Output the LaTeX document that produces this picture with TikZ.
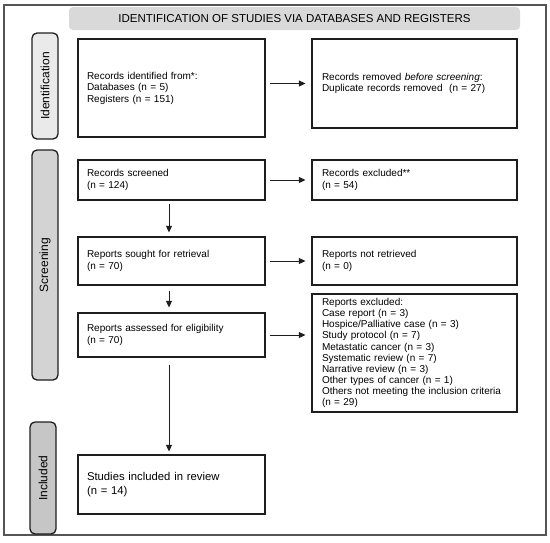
\documentclass[tikz,border=0pt]{standalone}
\usepackage{fontspec}
\setmainfont{Liberation Sans}
\usetikzlibrary{arrows.meta}
\definecolor{framegray}{HTML}{555555}
\definecolor{headgray}{HTML}{D9D9D9}
\definecolor{idfill}{HTML}{EAEAEA}
\definecolor{scrfill}{HTML}{D3D3D3}
\definecolor{incfill}{HTML}{C6C6C6}
\definecolor{ink}{HTML}{1E1E1E}
\begin{document}
\begin{tikzpicture}[x=1pt,y=-1pt,
  box/.style={draw=ink, line width=1.2pt, rectangle, inner ysep=1pt, align=left,
    font=\fontsize{10}{11.5}\selectfont},
  lbox/.style={box, minimum width=187pt, text width=169pt, inner xsep=9pt},
  rbox/.style={box, minimum width=205pt, text width=185pt, inner xsep=10pt},
  phase/.style={draw=ink, line width=1.3pt, rounded corners=5pt, minimum height=26pt,
    inner sep=0pt, rotate=90, font=\fontsize{12}{14}\selectfont},
  arr/.style={line width=1pt, draw=ink, -{Triangle[length=6.5pt,width=6pt]}},
]
\useasboundingbox (0,0) rectangle (550,542);
\draw[framegray, line width=1.2pt] (4,5) rectangle (546,535);
\node[fill=headgray, rounded corners=4pt, minimum width=451pt, minimum height=23pt, inner sep=0pt,
  font=\fontsize{11.5}{13}\selectfont] (head) at (294.5,18.5) {IDENTIFICATION OF STUDIES VIA DATABASES AND REGISTERS};

\node[phase, fill=idfill, minimum width=106pt] (pid) at (45,86) {Identification};
\node[phase, fill=scrfill, minimum width=230pt] (pscr) at (45,265) {Screening};
\node[phase, fill=incfill, minimum width=112pt] (pinc) at (43,478) {Included};

\node[lbox, minimum height=98pt] (box1) at (171.5,88) {Records identified from*:\\Databases (n = 5)\\Registers (n = 151)};
\node[rbox, minimum height=89pt] (removed) at (414.5,83.5) {Records removed \textit{before screening}:\\Duplicate records removed\ \ (n = 27)};
\node[lbox, minimum height=40pt] (screened) at (171.5,180) {Records screened\\(n = 124)};
\node[rbox, minimum height=40pt] (excluded) at (414.5,180) {Records excluded**\\(n = 54)};
\node[lbox, minimum height=48pt] (sought) at (171.5,261) {Reports sought for retrieval\\(n = 70)};
\node[rbox, minimum height=48pt] (notret) at (414.5,261) {Reports not retrieved\\(n = 0)};
\node[lbox, minimum height=44pt] (assessed) at (171.5,335) {Reports assessed for eligibility\\(n = 70)};
\node[rbox, minimum height=118pt, font=\fontsize{10}{11.1}\selectfont] (repexcl) at (414.5,353) {Reports excluded:\\Case report (n = 3)\\Hospice/Palliative case (n = 3)\\Study protocol (n = 7)\\Metastatic cancer (n = 3)\\Systematic review (n = 7)\\Narrative review (n = 3)\\Other types of cancer (n = 1)\\Others not meeting the inclusion criteria\\(n = 29)};
\node[lbox, minimum height=59pt, font=\fontsize{11.3}{14}\selectfont] (studies) at (171.5,484.5) {Studies included in review\\(n = 14)};

\draw[arr, shorten <=4pt, shorten >=6pt] (removed.west -| box1.east) -- (removed.west);
\draw[arr, shorten <=4pt, shorten >=6pt] (screened.east) -- (excluded.west);
\draw[arr, shorten <=4pt, shorten >=6pt] (sought.east) -- (notret.west);
\draw[arr, shorten <=4pt, shorten >=6pt] (assessed.east) -- (assessed.east -| repexcl.west);

\draw[arr, shorten <=3pt, shorten >=4pt] ([xshift=-2.5pt]screened.south) -- ([xshift=-2.5pt]sought.north);
\draw[arr, shorten <=5pt, shorten >=5pt] ([xshift=-2.5pt]sought.south) -- ([xshift=-2.5pt]assessed.north);
\draw[arr, shorten <=7pt, shorten >=3pt] ([xshift=-2.5pt]assessed.south) -- ([xshift=-2.5pt]studies.north);
\end{tikzpicture}
\end{document}
